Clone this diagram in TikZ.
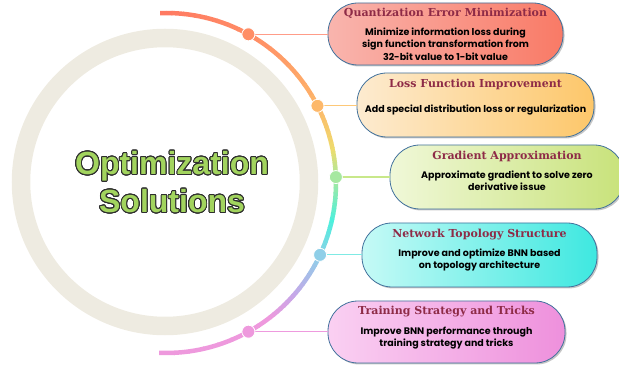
\documentclass[tikz,border=0pt]{standalone}
\usepackage{fontspec}
\usepackage{contour}
\usetikzlibrary{positioning,shadows}
\newfontfamily\titlefont{DejaVu Serif}
\newfontfamily\bodyfont{Poppins}
\newfontfamily\hubfont{Liberation Sans}
\definecolor{ringgray}{HTML}{EEEBE1}
\definecolor{hubgreen}{HTML}{A2D45E}
\definecolor{hubedge}{HTML}{2E2E2E}
\definecolor{titlered}{HTML}{8E2B47}
\definecolor{boxline}{HTML}{41719C}
% arc colours, top to bottom
\definecolor{arcA}{HTML}{FF7A62}
\definecolor{arcB}{HTML}{FF8E66}
\definecolor{arcC}{HTML}{FDB86A}
\definecolor{arcD}{HTML}{EEDC6E}
\definecolor{arcE}{HTML}{A6E8A0}
\definecolor{arcF}{HTML}{4DF0DC}
\definecolor{arcG}{HTML}{8FCFE8}
\definecolor{arcH}{HTML}{C4A8E8}
\definecolor{arcI}{HTML}{EE99DD}
% links
\definecolor{linkA}{HTML}{FF9C88}
\definecolor{linkB}{HTML}{FDC878}
\definecolor{linkC}{HTML}{C8E88A}
\definecolor{linkD}{HTML}{7FEAE4}
\definecolor{linkE}{HTML}{EE9ADE}
% box fills
\definecolor{fillAl}{HTML}{F9B5AE}\definecolor{fillAr}{HTML}{F97A66}
\definecolor{fillBl}{HTML}{FDEBD0}\definecolor{fillBr}{HTML}{FDC76A}
\definecolor{fillCl}{HTML}{F0F8D8}\definecolor{fillCr}{HTML}{C8E27A}
\definecolor{fillDl}{HTML}{C5FAF6}\definecolor{fillDr}{HTML}{3EE8E0}
\definecolor{fillEl}{HTML}{FAD0F2}\definecolor{fillEr}{HTML}{EE90DC}
\contourlength{0.9pt}
\contournumber{24}
\begin{document}
\begin{tikzpicture}[x=1pt,y=1pt,
  stadium/.style={draw=boxline, line width=0.8pt, rounded corners=30pt, minimum height=64pt, inner sep=0pt,
    drop shadow={shadow xshift=1.5pt, shadow yshift=-1.5pt, opacity=0.45, fill=black!50}},
  headline/.style={font=\titlefont\bfseries\fontsize{11}{13}\selectfont, text=titlered, inner sep=0pt, text height=8pt, text depth=2.5pt},
  bodytext/.style={font=\bodyfont\bfseries\fontsize{9.5}{12.5}\selectfont, align=center, inner sep=0pt},
  dotnode/.style={circle, draw=white, line width=0.8pt, minimum size=13pt, inner sep=0pt},
  link/.style={line width=1.2pt}]
\useasboundingbox (0,0) rectangle (619,367);
% grey ring
\draw[ringgray, line width=18.5pt] (165,185) circle (144);
\node[font=\hubfont\bfseries\fontsize{32}{38}\selectfont, align=center, text=hubgreen] (hub) at (172,184.5)
  {\contour{hubedge}{Optimization}\\\contour{hubedge}{Solutions}};
% coloured arc
\coordinate (o) at (166,184);
\foreach \a/\b/\ca/\cb in {92/61/arcA/arcB, 61/27/arcB/arcC, 27/12/arcC/arcD, 12/2/arcD/arcE, 2/-12/arcE/arcF,
  -12/-25/arcF/arcG, -25/-40/arcG/arcH, -40/-52/arcH/arcI, -52/-92/arcI/arcI}
{
  \foreach \i in {0,...,7}
  {
    \pgfmathsetmacro\s{\a+(\b-\a)*\i/8}
    \pgfmathsetmacro\e{\a+(\b-\a)*(\i+1)/8-0.3}
    \pgfmathtruncatemacro\p{100-\i*12.5}
    \draw[line width=4.5pt, color=\ca!\p!\cb] (o) ++(\s:170) arc[start angle=\s, end angle=\e, radius=170];
  }
}
\foreach \n/\ang in {1/61, 2/27, 3/2, 4/-25, 5/-61}
  \coordinate (p\n) at ([shift={(\ang:170)}]o);
% boxes
\node[stadium, minimum width=235pt, minimum height=62pt, left color=fillAl, right color=fillAr] (b1) at (445.5,333) {};
\node[stadium, minimum width=237pt, left color=fillBl, right color=fillBr] (b2) at (475.5,262) {};
\node[stadium, minimum width=234pt, left color=fillCl, right color=fillCr] (b3) at (507,190) {};
\node[stadium, minimum width=235pt, left color=fillDl, right color=fillDr] (b4) at (479.5,112) {};
\node[stadium, minimum width=237pt, minimum height=62pt, left color=fillEl, right color=fillEr] (b5) at (446.5,35) {};
% links and dots
\foreach \n/\c/\l in {1/arcB/linkA, 2/arcC/linkB, 3/arcE/linkC, 4/arcG/linkD, 5/arcI/linkE}
{
  \draw[link, \l] (p\n) -- (p\n -| b\n.west);
  \node[dotnode, fill=\c] (d\n) at (p\n) {};
}
% texts
\node[headline] (t1) at ([yshift=20pt]b1.center) {Quantization Error Minimization};
\node[bodytext, below=8pt of t1] (s1) {Minimize information loss during\\sign function transformation from\\32-bit value to 1-bit value};
\node[headline] (t2) at ([yshift=20pt]b2.center) {Loss Function Improvement};
\node[bodytext, below=14pt of t2] (s2) {Add special distribution loss or regularization};
\node[headline] (t3) at ([yshift=20pt]b3.center) {Gradient Approximation};
\node[bodytext, below=8pt of t3] (s3) {Approximate gradient to solve zero\\derivative issue};
\node[headline] (t4) at ([yshift=20pt]b4.center) {Network Topology Structure};
\node[bodytext, below=8pt of t4] (s4) {Improve and optimize BNN based\\on topology architecture};
\node[headline] (t5) at ([yshift=20pt]b5.center) {Training Strategy and Tricks};
\node[bodytext, below=9pt of t5] (s5) {Improve BNN performance through\\training strategy and tricks};
\end{tikzpicture}
\end{document}
